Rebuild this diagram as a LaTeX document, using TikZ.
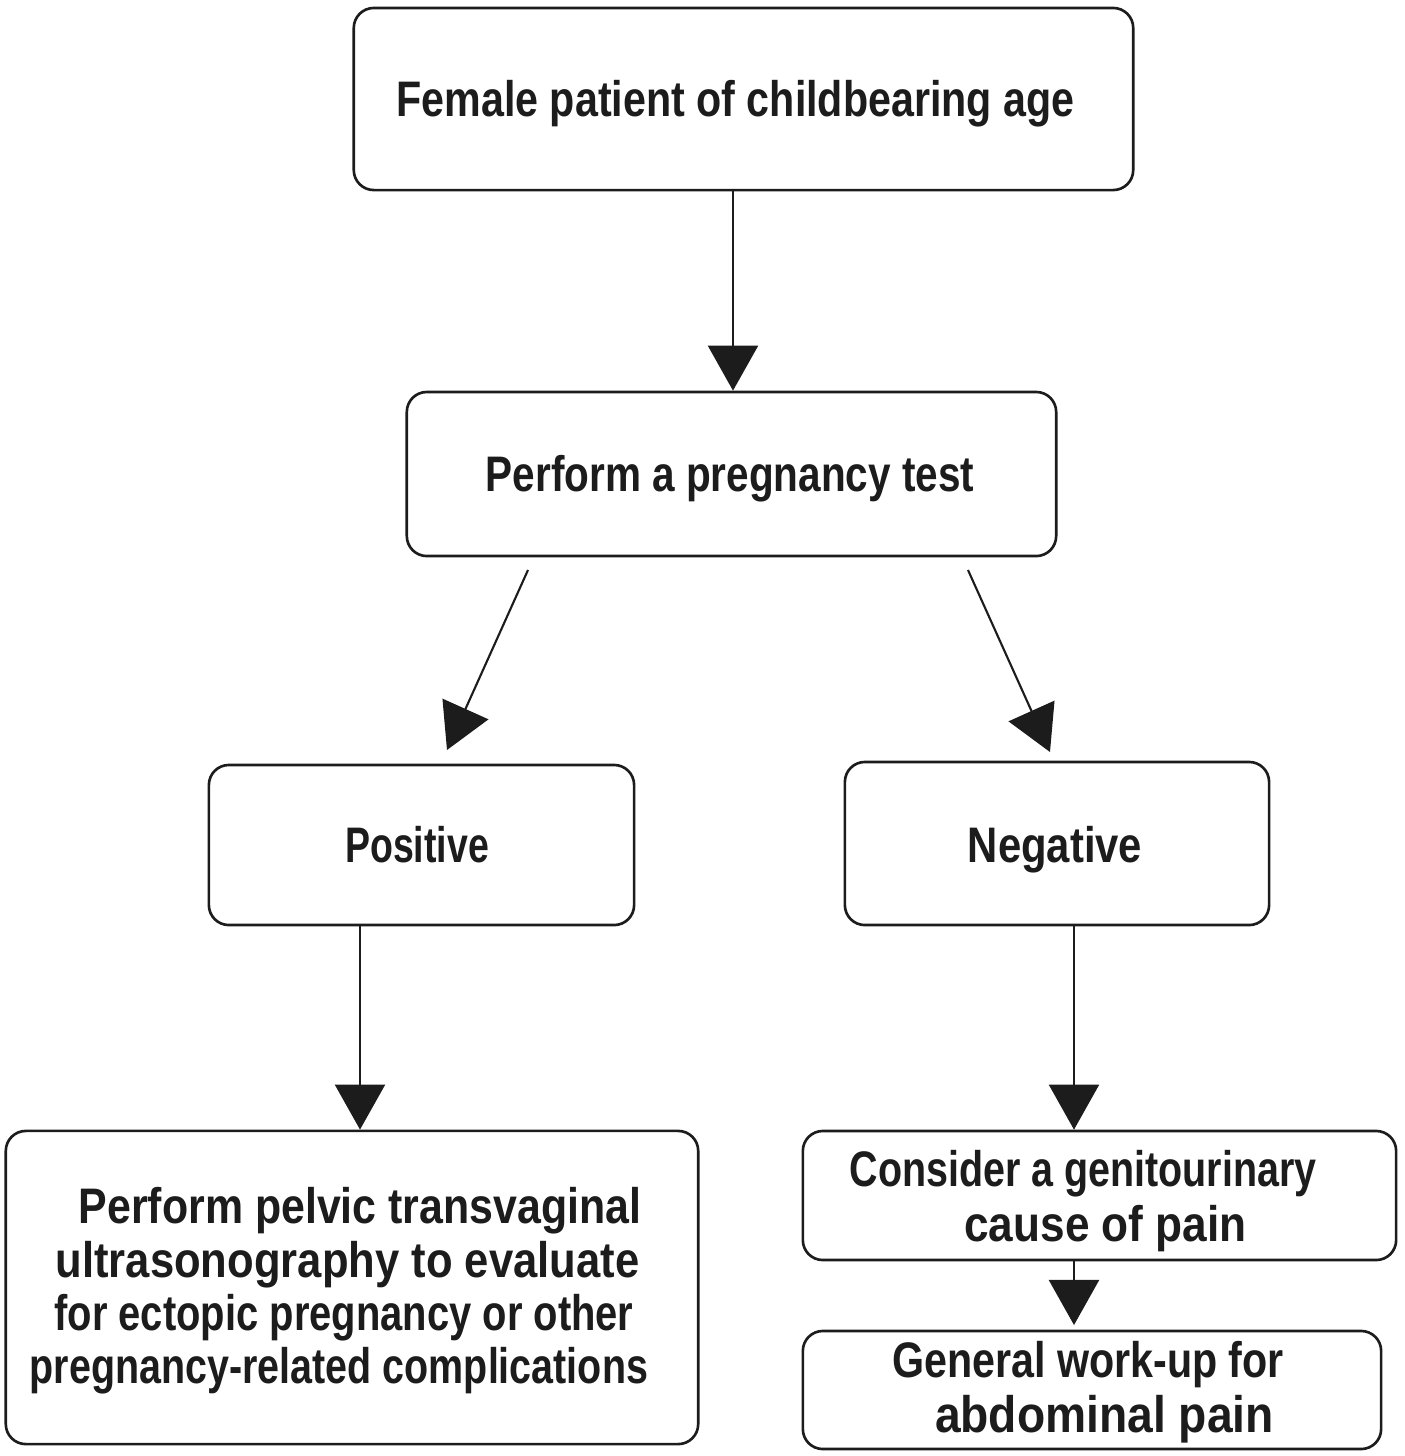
\documentclass[tikz,border=0pt]{standalone}
\usepackage{fontspec}
\usepackage{graphicx}
\setmainfont{Liberation Sans}[FakeStretch=0.79,BoldFont={Liberation Sans Bold}]
\newfontfamily\widefont{Liberation Sans Bold}[FakeStretch=0.9]
\usetikzlibrary{arrows.meta}
\definecolor{ink}{HTML}{1C1C1C}
\newcommand{\hwide}[2]{\scalebox{#1}[1]{#2}}
\tikzset{
  box/.style={draw=ink, line width=0.75pt, rounded corners=0.2cm, inner sep=0pt},
  txt/.style={anchor=base, inner sep=0pt, text=ink, font=\fontsize{14.2}{17}\selectfont\bfseries},
  arr/.style={draw=ink, line width=0.6pt, -{Triangle[length=0.45cm,width=0.5cm]}}
}
\begin{document}
\begin{tikzpicture}[x=0.01cm,y=-0.01cm]
\useasboundingbox (0,0) rectangle (1405,1456);
% boxes
\node[box, minimum width=7.79cm, minimum height=1.82cm] (top) at (743.5,99) {};
\node[box, minimum width=6.49cm, minimum height=1.64cm] (preg) at (731.5,474) {};
\node[box, minimum width=4.25cm, minimum height=1.60cm] (pos) at (421.5,845) {};
\node[box, minimum width=4.24cm, minimum height=1.63cm] (neg) at (1057,843.5) {};
\node[box, minimum width=6.92cm, minimum height=3.13cm] (bl) at (352,1287.5) {};
\node[box, minimum width=5.93cm, minimum height=1.29cm] (cons) at (1099.5,1195.5) {};
\node[box, minimum width=5.78cm, minimum height=1.18cm] (gen) at (1092,1390) {};
% texts
\node[txt] (ttop) at (735.5,116) {\hwide{1.045}{Female patient of childbearing age}};
\node[txt] (tpreg) at (730,491) {\hwide{1.027}{Perform a pregnancy test}};
\node[txt] (tpos) at (417,862) {\hwide{0.95}{Positive}};
\node[txt] (tneg) at (1055,862) {\hwide{1.06}{Negative}};
\node[txt] (tbl1) at (360,1223) {\hwide{1.087}{Perform pelvic transvaginal}};
\node[txt] (tbl2) at (347.5,1277) {\hwide{1.105}{ultrasonography to evaluate}};
\node[txt] (tbl3) at (344,1330) {\hwide{1.012}{for ectopic pregnancy or other}};
\node[txt] (tbl4) at (339,1383) {pregnancy-related complications};
\node[txt] (tcons1) at (1083,1186) {Consider a genitourinary};
\node[txt] (tcons2) at (1105.5,1241) {\hwide{1.12}{cause of pain}};
\node[txt] (tgen1) at (1088,1377) {\hwide{1.045}{General work-up for}};
\node[txt, font=\fontsize{14.6}{17}\widefont] (tgen2) at (1104.5,1432) {abdominal pain};
% connectors
\coordinate (d1s) at (528,570);
\coordinate (d1e) at (447,750);
\coordinate (d2s) at (968,570);
\coordinate (d2e) at (1050,752);
\coordinate (g1) at (1074,1325);
\draw[arr] (top.south -| 733,0) -- (preg.north -| 733,0);
\draw[arr] (d1s) -- (d1e);
\draw[arr] (d2s) -- (d2e);
\draw[arr] (pos.south -| 360,0) -- (bl.north -| 360,0);
\draw[arr] (neg.south -| 1074,0) -- (cons.north -| 1074,0);
\draw[arr] (cons.south -| 1074,0) -- (g1);
\end{tikzpicture}
\end{document}
